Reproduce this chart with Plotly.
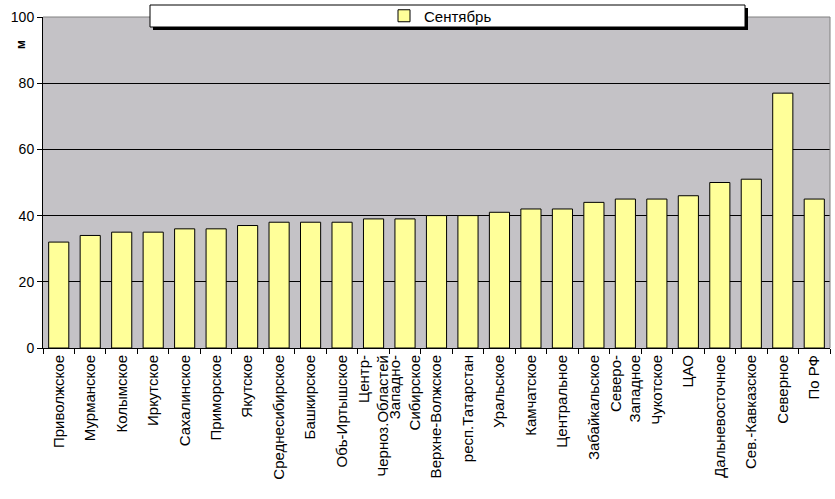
import plotly.graph_objects as go

categories = ["Приволжское", "Мурманское", "Колымское", "Иркутское", "Сахалинское",
              "Приморское", "Якутское", "Среднесибирское", "Башкирское", "Обь-Иртышское",
              "Центр-<br>Черноз.Областей", "Западно-<br>Сибирское", "Верхне-Волжское",
              "респ.Татарстан", "Уральское", "Камчатское", "Центральное", "Забайкальское",
              "Северо-<br>Западное", "Чукотское", "ЦАО", "Дальневосточное",
              "Сев.-Кавказское", "Северное", "По РФ"]
values = [32, 34, 35, 35, 36, 36, 37, 38, 38, 38, 39, 39, 40, 40, 41, 42, 42, 44,
          45, 45, 46, 50, 51, 77, 45]
series_name = "Сентябрь"
y_ticks = [0, 20, 40, 60, 80, 100]

W, H = 835, 499
L, R, T, B = 43, 5, 17, 151
pw, ph = W - L - R, H - T - B

def px_x(x):
    return (x - L) / pw

def px_y(y):
    return (H - B - y) / ph

fig = go.Figure()
fig.add_trace(go.Bar(
    x=categories, y=values, name=series_name,
    marker=dict(color="#FFFF99", line=dict(color="black", width=1)),
    showlegend=True,
))

fig.update_layout(
    width=W, height=H,
    margin=dict(l=L, r=R, t=T, b=B, autoexpand=False),
    paper_bgcolor="white",
    plot_bgcolor="#C4C2C6",
    bargap=0.36,
    font=dict(family="Liberation Sans, Arial, sans-serif", size=14, color="black"),
    showlegend=True,
    legend=dict(
        orientation="h", x=px_x(384), y=px_y(16), xanchor="left", yanchor="middle",
        bgcolor="rgba(0,0,0,0)", borderwidth=0,
        font=dict(size=15, color="black"),
        itemwidth=30,
    ),
    xaxis=dict(
        type="category", tickangle=-90, showgrid=False,
        showline=True, linecolor="black", linewidth=1,
        ticks="outside", ticklen=5, tickcolor="black", tickson="boundaries",
        tickfont=dict(size=15), mirror=False,
    ),
    yaxis=dict(
        range=[0, 100], tickvals=y_ticks, showgrid=True, gridcolor="black", gridwidth=1,
        showline=True, linecolor="black", linewidth=1,
        ticks="outside", ticklen=5, tickcolor="black",
        tickfont=dict(size=14), zeroline=False,
    ),
    shapes=[
        # plot area border (top/right gray)
        dict(type="line", xref="paper", yref="paper", x0=0, x1=1, y0=1, y1=1,
             line=dict(color="#808080", width=1)),
        dict(type="line", xref="paper", yref="paper", x0=1, x1=1, y0=0, y1=1,
             line=dict(color="#808080", width=1)),
        # legend shadow
        dict(type="rect", xref="paper", yref="paper",
             x0=px_x(153), x1=px_x(748), y0=px_y(30), y1=px_y(8),
             fillcolor="black", line=dict(width=0), layer="above"),
        # legend box
        dict(type="rect", xref="paper", yref="paper",
             x0=px_x(150), x1=px_x(745), y0=px_y(27), y1=px_y(5),
             fillcolor="white", line=dict(color="black", width=1), layer="above"),
    ],
    annotations=[
        dict(text="<b>м</b>", textangle=-90, xref="paper", yref="paper",
             x=px_x(21), y=px_y(45), showarrow=False, xanchor="center", yanchor="middle",
             font=dict(size=12, color="black")),
    ],
)

fig.write_html("out.html")
